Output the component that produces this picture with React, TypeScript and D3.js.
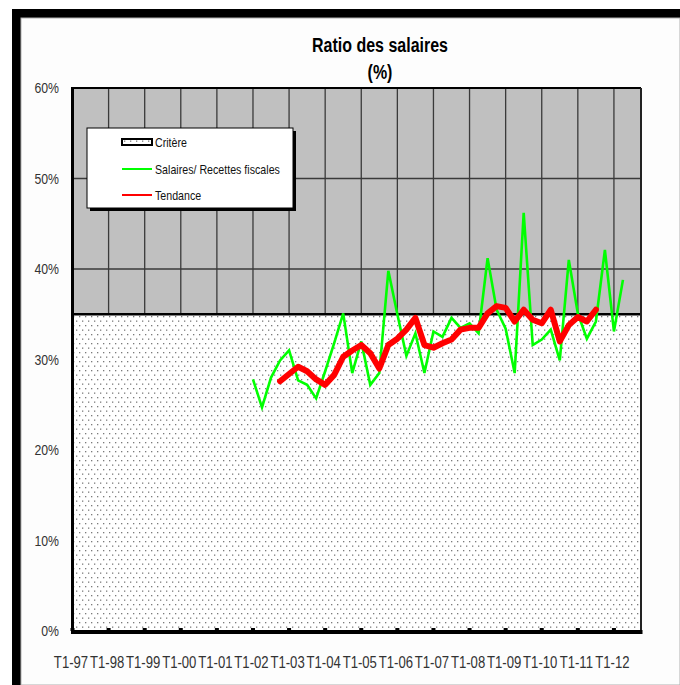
import React from "react";
import * as d3 from "d3";

// Quarter labels T1-97 .. T4-12
const YEARS = d3.range(1997, 2013);
const QUARTERS: string[] = YEARS.flatMap((y) =>
  [1, 2, 3, 4].map((q) => `T${q}-${String(y % 100).padStart(2, "0")}`)
);
const YEAR_TICKS: string[] = YEARS.map((y) => `T1-${String(y % 100).padStart(2, "0")}`);
const Y_TICKS = [0, 0.1, 0.2, 0.3, 0.4, 0.5, 0.6];

// Seuil du critère
const CRITERE = 0.35;

// Salaires / Recettes fiscales, from T1-02
const SALAIRES_START = "T1-02";
const SALAIRES = [
  27.8, 24.7, 28.0, 29.9, 31.0, 27.7, 27.2, 25.7, 28.7, 31.8,
  35.1, 28.5, 32.0, 27.2, 28.5, 39.8, 35.0, 30.4, 32.9, 28.5,
  33.1, 32.5, 34.6, 33.5, 34.0, 32.9, 41.2, 35.5, 33.4, 28.5,
  46.2, 31.6, 32.2, 33.3, 29.9, 41.0, 35.1, 32.3, 34.2, 42.1,
  33.1, 38.8,
];

// Tendance, from T4-02
const TENDANCE_START = "T4-02";
const TENDANCE = [
  27.6, 28.4, 29.2, 28.7, 27.8, 27.2, 28.3, 30.3, 31.0, 31.6,
  30.7, 29.0, 31.6, 32.3, 33.3, 34.6, 31.6, 31.3, 31.8, 32.2,
  33.3, 33.5, 33.5, 35.1, 35.9, 35.7, 34.2, 35.5, 34.4, 34.0,
  35.5, 32.0, 33.8, 34.7, 34.2, 35.5,
];

const LEGEND = ["Critère", "Salaires/ Recettes fiscales", "Tendance"];

const W = 680;
const H = 685;
const M = { left: 72.5, right: 641, top: 88, bottom: 631 };
const FONT = "'Liberation Sans', Arial, sans-serif";
const NARROW = 0.82;

type Pt = { q: string; v: number };

function toSeries(start: string, values: number[]): Pt[] {
  const i0 = QUARTERS.indexOf(start);
  return values.map((v, k) => ({ q: QUARTERS[i0 + k], v: v / 100 }));
}

// Horizontally condensed text (narrow face look)
function NText(props: {
  x: number;
  y: number;
  size: number;
  anchor?: "start" | "middle" | "end";
  weight?: string;
  fill?: string;
  children: React.ReactNode;
}) {
  const { x, y, size, anchor = "start", weight = "normal", fill = "#333", children } = props;
  return (
    <text
      transform={`translate(${x},${y}) scale(${NARROW},1)`}
      textAnchor={anchor}
      fontSize={size}
      fontWeight={weight}
      fill={fill}
    >
      {children}
    </text>
  );
}

export default function App() {
  const x = d3.scalePoint<string>().domain(QUARTERS).range([M.left, M.right]);
  const y = d3.scaleLinear().domain([0, 0.6]).range([M.bottom, M.top]);

  const sal = toSeries(SALAIRES_START, SALAIRES);
  const ten = toSeries(TENDANCE_START, TENDANCE);

  const line = d3
    .line<Pt>()
    .x((d) => x(d.q) as number)
    .y((d) => y(d.v));

  const area = d3
    .area<string>()
    .x((q) => x(q) as number)
    .y0(y(0))
    .y1(y(CRITERE));

  const yc = y(CRITERE);

  return (
    <svg
      width={W}
      height={H}
      style={{ position: "absolute", left: 0, top: 0, background: "#fff" }}
      fontFamily={FONT}
    >
      <defs>
        <pattern id="dots" width="6" height="9" patternUnits="userSpaceOnUse">
          <rect width="6" height="9" fill="#ffffff" />
          <rect x="1" y="1" width="1.3" height="1.3" fill="#7a7a7a" />
          <rect x="4" y="5.5" width="1.3" height="1.3" fill="#7a7a7a" />
        </pattern>
      </defs>

      {/* outer frame */}
      <rect x={12} y={9} width={W - 12} height={H - 9} fill="#000" />
      <rect x={21} y={18} width={W - 21} height={H - 18} fill="#fdfdfd" stroke="#b0b0b0" strokeWidth={1} />

      {/* title */}
      <NText x={380} y={52} size={19.5} anchor="middle" weight="bold" fill="#000">
        Ratio des salaires
      </NText>
      <NText x={380} y={79} size={19.5} anchor="middle" weight="bold" fill="#000">
        (%)
      </NText>

      {/* plot background */}
      <rect x={M.left} y={M.top} width={M.right - M.left} height={M.bottom - M.top} fill="#c0c0c0" />

      {/* gridlines */}
      {Y_TICKS.filter((t) => t > 0 && t < 0.6).map((t) => (
        <line key={t} x1={M.left} x2={M.right} y1={y(t)} y2={y(t)} stroke="#3a3a3a" strokeWidth={1.3} />
      ))}
      {YEAR_TICKS.slice(1).map((q) => (
        <line key={q} x1={x(q)} x2={x(q)} y1={M.top} y2={M.bottom} stroke="#3a3a3a" strokeWidth={1.3} />
      ))}

      {/* critère area */}
      <path d={area(QUARTERS) ?? ""} fill="url(#dots)" />
      <line x1={M.left} x2={M.right} y1={yc} y2={yc} stroke="#000" strokeWidth={2.5} />

      {/* plot border */}
      <line x1={M.left} x2={M.right} y1={M.top} y2={M.top} stroke="#000" strokeWidth={2} />
      <line x1={M.right} x2={M.right} y1={M.top} y2={M.bottom} stroke="#222" strokeWidth={2} />

      {/* series */}
      <path d={line(sal) ?? ""} fill="none" stroke="#00ff00" strokeWidth={2.6} strokeLinejoin="miter" />
      <path d={line(ten) ?? ""} fill="none" stroke="#ff0000" strokeWidth={6} strokeLinejoin="round" strokeLinecap="round" />

      {/* axes */}
      <line x1={M.left} x2={M.left} y1={M.top - 1} y2={M.bottom + 2} stroke="#000" strokeWidth={3} />
      <rect x={M.left - 1.5} y={M.bottom - 1} width={M.right - M.left + 3} height={4} fill="#000" />
      {YEAR_TICKS.map((q) => (
        <rect key={q} x={(x(q) as number) - 2} y={M.bottom - 3} width={4} height={3} fill="#000" />
      ))}

      {/* y tick labels */}
      {Y_TICKS.map((t) => (
        <NText key={t} x={59} y={y(t) + 5} size={15} anchor="end">
          {d3.format(".0%")(t)}
        </NText>
      ))}

      {/* x tick labels */}
      {YEAR_TICKS.map((q) => (
        <NText key={q} x={(x(q) as number) - 1.5} y={668} size={16} anchor="middle">
          {q}
        </NText>
      ))}

      {/* legend */}
      <rect x={90} y={131} width={206} height={80} fill="#000" />
      <rect x={87} y={128} width={206} height={80} fill="#fff" stroke="#000" strokeWidth={1} />
      <rect x={122} y={139} width={30} height={6} fill="url(#dots)" stroke="#000" strokeWidth={2} />
      <line x1={122} x2={152} y1={169} y2={169} stroke="#00ff00" strokeWidth={2} />
      <line x1={122} x2={152} y1={195} y2={195} stroke="#ff0000" strokeWidth={2} />
      {LEGEND.map((t, i) => (
        <NText key={t} x={155} y={[147, 174, 200][i]} size={13} fill="#111">
          {t}
        </NText>
      ))}
    </svg>
  );
}
